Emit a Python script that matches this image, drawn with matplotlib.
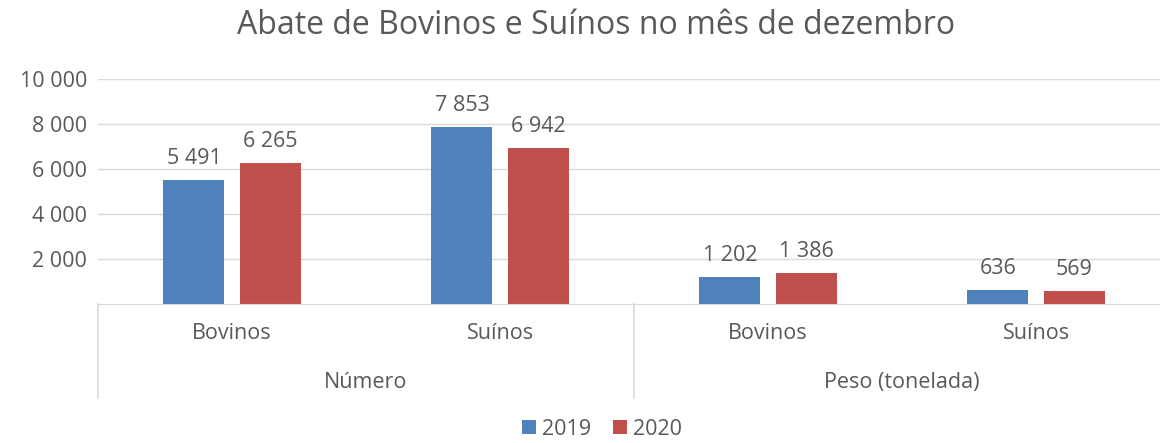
import matplotlib.pyplot as plt
import matplotlib.transforms as mtransforms
import numpy as np

plt.rcParams['font.family'] = ['Open Sans', 'DejaVu Sans']

categories = ['Bovinos', 'Suínos', 'Bovinos', 'Suínos']
groups = ['Número', 'Peso (tonelada)']
v2019 = [5491, 7853, 1202, 636]
v2020 = [6265, 6942, 1386, 569]
yticks = [2000, 4000, 6000, 8000, 10000]

blue = '#4F81BD'
red = '#C0504D'
txt = '#595959'
grid = '#D9D9D9'
fs = 15.5


def fmt(v):
    return f"{v:,}".replace(',', ' ')


fig = plt.figure(figsize=(11.6, 4.43), dpi=100)
ax = fig.add_axes([98 / 1160, 139 / 443, 1072 / 1160, 225 / 443])

x = np.arange(len(categories))
w = 0.228
off = 0.142
b1 = ax.bar(x - off, v2019, w, color=blue, label='2019', zorder=3)
b2 = ax.bar(x + off, v2020, w, color=red, label='2020', zorder=3)

for bars, vals in [(b1, v2019), (b2, v2020)]:
    for b, v in zip(bars, vals):
        ax.annotate(fmt(v), (b.get_x() + b.get_width() / 2, v),
                    xytext=(0, 8), textcoords='offset points',
                    ha='center', va='bottom', fontsize=fs, color=txt)

ax.set_xlim(-0.5, len(categories) - 0.5)
ax.set_ylim(0, 10000)
ax.set_yticks(yticks)
ax.set_yticklabels([fmt(t) for t in yticks], fontsize=fs, color=txt)
ax.tick_params(axis='y', length=0, pad=8)
ax.set_xticks([])
ax.grid(axis='y', color=grid, linewidth=1, zorder=0)
for s in ['top', 'right', 'left']:
    ax.spines[s].set_visible(False)
ax.spines['bottom'].set_color(grid)
ax.spines['bottom'].set_zorder(4)

trans = mtransforms.blended_transform_factory(ax.transData, ax.transAxes)
for i, c in enumerate(categories):
    ax.text(i, -0.133, c, transform=trans, ha='center', va='center',
            fontsize=fs, color=txt)
for j, g in enumerate(groups):
    ax.text(2 * j + 0.5, -0.347, g, transform=trans, ha='center', va='center',
            fontsize=fs, color=txt)
for sx in [-0.5, 1.5, 3.5]:
    ax.plot([sx, sx], [0, -0.418], transform=trans, color=grid,
            linewidth=1.2, clip_on=False)

fig.suptitle('Abate de Bovinos e Suínos no mês de dezembro', x=0.514, y=0.98,
             fontsize=23, color=txt)
fig.legend(handles=[b1, b2], loc='lower center', bbox_to_anchor=(0.519, -0.036),
           ncol=2, frameon=False, fontsize=fs, labelcolor=txt,
           handlelength=0.65, handleheight=0.65, handletextpad=0.3,
           columnspacing=1.0)

plt.savefig('out.png', dpi=100)
